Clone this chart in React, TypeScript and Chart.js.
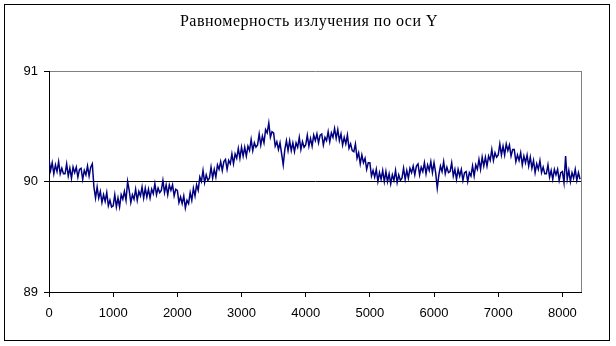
import React, { useEffect, useRef } from "react";
import { Chart, registerables } from "chart.js";

Chart.register(...registerables);

const TITLE = "Равномерность излучения по оси Y";
const X_STEP = 25;
const X_MIN = 0;
const X_MAX = 8290;
const X_TICKS = [0, 1000, 2000, 3000, 4000, 5000, 6000, 7000, 8000];
const Y_MIN = 89;
const Y_MAX = 91;
const Y_TICKS = [89, 90, 91];

// Samples every X_STEP units
const seriesY: number[] = [
  90.20, 90.10, 90.17, 90.07, 90.15, 90.09, 90.18, 90.07, 90.12, 90.07,
  90.07, 90.16, 90.05, 90.12, 90.03, 90.13, 90.08, 90.13, 90.04, 90.11,
  90.12, 90.02, 90.10, 90.06, 90.14, 90.05, 90.13, 90.16, 89.95, 89.85,
  89.95, 89.85, 89.91, 89.81, 89.88, 89.82, 89.90, 89.78, 89.83, 89.77,
  89.78, 89.88, 89.77, 89.85, 89.77, 89.88, 89.84, 89.91, 89.83, 90.00,
  89.92, 89.81, 89.88, 89.84, 89.93, 89.83, 89.91, 89.87, 89.95, 89.85,
  89.94, 89.86, 89.93, 89.85, 89.93, 89.89, 89.98, 89.88, 89.94, 89.90,
  89.92, 90.01, 89.90, 89.97, 89.88, 89.97, 89.92, 89.97, 89.87, 89.93,
  89.92, 89.81, 89.86, 89.80, 89.87, 89.76, 89.83, 89.80, 89.90, 89.83,
  89.94, 89.87, 89.97, 89.92, 90.04, 90.00, 90.10, 89.99, 90.06, 90.01,
  90.03, 90.13, 90.03, 90.11, 90.04, 90.15, 90.11, 90.18, 90.10, 90.18,
  90.20, 90.11, 90.19, 90.16, 90.25, 90.16, 90.25, 90.21, 90.30, 90.21,
  90.31, 90.23, 90.31, 90.23, 90.32, 90.28, 90.38, 90.28, 90.35, 90.31,
  90.33, 90.43, 90.33, 90.41, 90.35, 90.47, 90.44, 90.53, 90.40, 90.45,
  90.44, 90.32, 90.36, 90.29, 90.35, 90.25, 90.15, 90.29, 90.37, 90.28,
  90.37, 90.28, 90.35, 90.27, 90.35, 90.31, 90.40, 90.29, 90.36, 90.31,
  90.33, 90.42, 90.32, 90.39, 90.32, 90.42, 90.37, 90.43, 90.35, 90.42,
  90.43, 90.33, 90.40, 90.37, 90.45, 90.36, 90.44, 90.40, 90.48, 90.39,
  90.47, 90.37, 90.43, 90.33, 90.40, 90.34, 90.42, 90.30, 90.34, 90.28,
  90.27, 90.34, 90.21, 90.26, 90.16, 90.24, 90.17, 90.21, 90.11, 90.17,
  90.17, 90.05, 90.10, 90.04, 90.11, 90.00, 90.08, 90.02, 90.10, 90.00,
  90.09, 90.00, 90.07, 89.98, 90.06, 90.01, 90.10, 89.99, 90.06, 90.01,
  90.03, 90.12, 90.02, 90.10, 90.03, 90.12, 90.08, 90.14, 90.06, 90.14,
  90.16, 90.06, 90.13, 90.09, 90.17, 90.07, 90.15, 90.10, 90.18, 90.08,
  90.17, 90.08, 89.94, 90.06, 90.14, 90.09, 90.18, 90.07, 90.13, 90.08,
  90.09, 90.17, 90.05, 90.11, 90.02, 90.11, 90.05, 90.11, 90.01, 90.08,
  90.09, 90.00, 90.08, 90.05, 90.14, 90.05, 90.15, 90.11, 90.20, 90.11,
  90.22, 90.14, 90.22, 90.14, 90.23, 90.19, 90.29, 90.19, 90.26, 90.22,
  90.24, 90.34, 90.24, 90.32, 90.24, 90.34, 90.28, 90.33, 90.23, 90.29,
  90.29, 90.18, 90.24, 90.19, 90.26, 90.15, 90.23, 90.17, 90.24, 90.14,
  90.22, 90.12, 90.19, 90.08, 90.16, 90.11, 90.19, 90.08, 90.13, 90.07,
  90.07, 90.15, 90.04, 90.10, 90.02, 90.11, 90.06, 90.11, 90.01, 90.08,
  90.09, 89.99, 90.23, 90.02, 90.10, 90.00, 90.08, 90.03, 90.11, 90.01,
  90.08, 90.02,
];

const LINE_COLOR = "#000080";

const frame = {
  id: "frame",
  beforeDatasetsDraw(chart: any) {
    const { ctx, chartArea } = chart;
    ctx.save();
    ctx.strokeStyle = "#808080";
    ctx.lineWidth = 1;
    ctx.beginPath();
    ctx.moveTo(Math.round(chartArea.right) + 0.5, chartArea.top);
    ctx.lineTo(Math.round(chartArea.right) + 0.5, chartArea.bottom);
    ctx.stroke();
    ctx.restore();
  },
  afterDraw(chart: any) {
    const { ctx } = chart;
    ctx.save();
    ctx.fillStyle = "#000";
    ctx.font = "16px 'Liberation Serif', 'Times New Roman', serif";
    try { (ctx as any).letterSpacing = "0.5px"; } catch (e) {}
    ctx.textAlign = "center";
    ctx.textBaseline = "middle";
    ctx.fillText(TITLE, 309, 22);
    ctx.restore();
  },
};

export default function App() {
  const ref = useRef<HTMLCanvasElement>(null);
  useEffect(() => {
    if (!ref.current) return;
    const points = seriesY.map((v, i) => ({ x: X_MIN + i * X_STEP, y: v }));
    const chart = new Chart(ref.current, {
      type: "line",
      data: {
        datasets: [
          {
            data: points,
            borderColor: LINE_COLOR,
            borderWidth: 1.5,
            pointRadius: 0,
            tension: 0,
            fill: false,
          },
        ],
      },
      plugins: [frame],
      options: {
        animation: false,
        responsive: false,
        devicePixelRatio: 1,
        layout: { padding: { left: 0, top: 71, right: 35, bottom: 0 } },
        plugins: { legend: { display: false }, tooltip: { enabled: false }, title: { display: false } },
        scales: {
          x: {
            type: "linear",
            min: X_MIN,
            max: X_MAX,
            afterBuildTicks: (s: any) => { s.ticks = X_TICKS.map((v) => ({ value: v })); },
            ticks: {
              autoSkip: false,
              maxRotation: 0,
              color: "#000",
              padding: 9,
              font: { family: "'Liberation Sans', Arial, sans-serif", size: 13 },
              callback: (v: any) => String(v),
            },
            grid: { display: true, drawOnChartArea: false, tickLength: 5, color: "#000", tickColor: "#000" },
            border: { color: "#000", width: 1 },
            afterFit: (s: any) => { s.height = 54; },
          },
          y: {
            min: Y_MIN,
            max: Y_MAX,
            afterBuildTicks: (s: any) => { s.ticks = Y_TICKS.map((v) => ({ value: v })); },
            ticks: {
              color: "#000",
              padding: 6,
              font: { family: "'Liberation Sans', Arial, sans-serif", size: 13 },
            },
            grid: {
              drawOnChartArea: true,
              tickLength: 5,
              tickColor: "#000",
              color: (c: any) => (c.tick && c.tick.value === Y_MAX ? "#808080" : "#000"),
            },
            border: { color: "#000", width: 1 },
            afterFit: (s: any) => { s.width = 49; },
          },
        },
      },
    });
    return () => chart.destroy();
  }, []);
  return (
    <div style={{ position: "absolute", left: 0, top: 0, width: 616, height: 346, background: "#fff" }}>
      <canvas ref={ref} width={616} height={346} style={{ width: 616, height: 346, display: "block" }} />
      <div
        style={{
          position: "absolute",
          left: 4,
          top: 4,
          width: 604,
          height: 335,
          border: "1px solid #000",
          pointerEvents: "none",
        }}
      />
    </div>
  );
}
